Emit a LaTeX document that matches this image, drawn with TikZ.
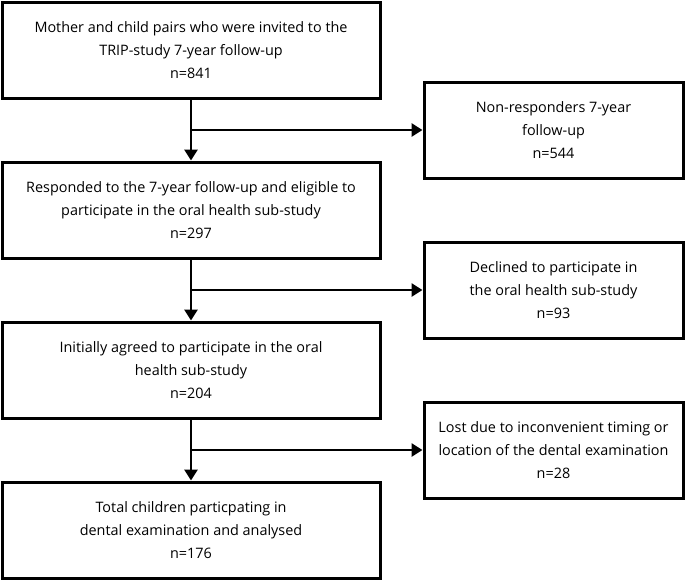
\documentclass[tikz,border=0pt]{standalone}
\usepackage{fontspec}
\setmainfont{Open Sans}
\usepackage{tikz}
\usetikzlibrary{arrows.meta, positioning}

\begin{document}
\begin{tikzpicture}[x=1pt, y=1pt, >={Triangle[width=13pt,length=11pt]}, node distance=61pt,
  every node/.style={align=center, font=\fontsize{14.4}{23}\selectfont},
  lbox/.style={draw, line width=3pt, minimum width=378pt, minimum height=96pt, inner sep=0pt},
  rbox/.style={draw, line width=3pt, minimum width=259pt, minimum height=96pt, inner sep=0pt},
  arr/.style={->, line width=2.8pt}]
\useasboundingbox (0,0) rectangle (685,-582);
\node[lbox] (b1) at (191,-50) {Mother and child pairs who were invited to the\\TRIP-study 7-year follow-up\\n=841};
\node[lbox, below=of b1] (b2) {Responded to the 7-year follow-up and eligible to\\participate in the oral health sub-study\\n=297};
\node[lbox, below=of b2] (b3) {Initially agreed to participate in the oral\\health sub-study\\n=204};
\node[lbox, below=of b3] (b4) {Total children particpating in\\dental examination and analysed\\n=176};
\node[rbox, right=41pt of b1, yshift=-80pt] (r1) {Non-responders 7-year\\follow-up\\n=544};
\node[rbox, right=41pt of b2, yshift=-80pt] (r2) {Declined to participate in\\the oral health sub-study\\n=93};
\node[rbox, right=41pt of b3, yshift=-80pt] (r3) {Lost due to inconvenient timing or\\location of the dental examination\\n=28};
\draw[arr] (b1) -- (b2);
\draw[arr] (b2) -- (b3);
\draw[arr] (b3) -- (b4);
\draw[arr] (b1.south |- r1) -- (r1);
\draw[arr] (b2.south |- r2) -- (r2);
\draw[arr] (b3.south |- r3) -- (r3);
\end{tikzpicture}
\end{document}
